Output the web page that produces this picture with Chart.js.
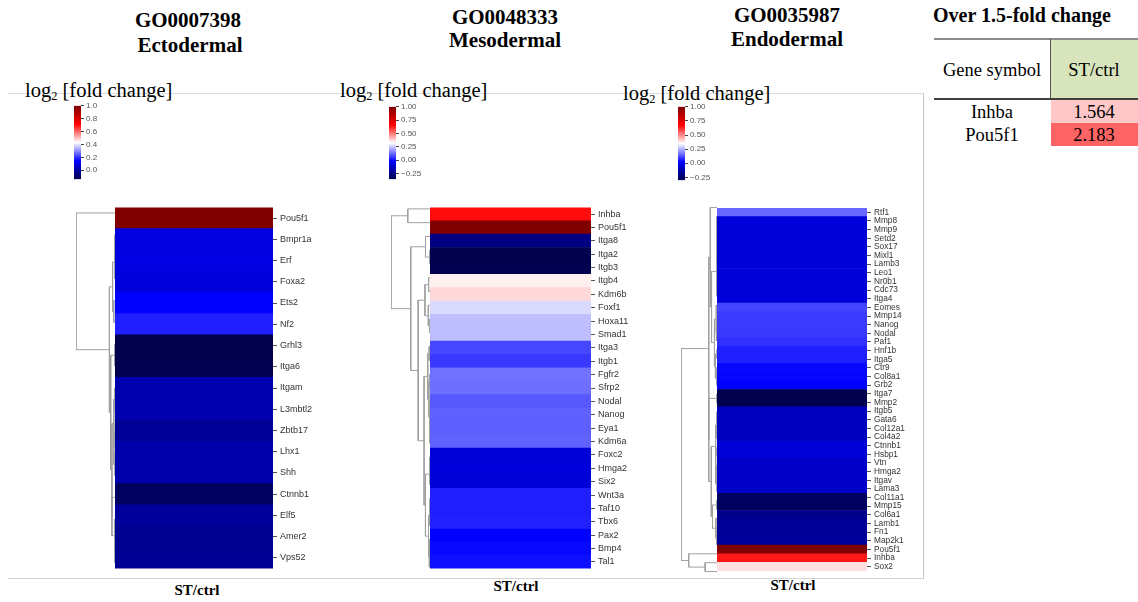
<!DOCTYPE html>
<html>
<head>
<meta charset="utf-8">
<script src="https://cdn.jsdelivr.net/npm/chart.js@4.4.0/dist/chart.umd.min.js"></script>
<style>
  body { margin: 0; width: 1138px; height: 602px; background: #fff; position: relative; overflow: hidden; }
  .abs { position: absolute; }
  .serif { font-family: "Liberation Serif", "Times New Roman", serif; color: #000; white-space: nowrap; }
  .c { transform: translate(-50%, -50%); }
  .title { font-weight: bold; font-size: 21px; line-height: 24px; }
  .lbl { font-size: 20.5px; line-height: 22px; }
  .lbl sub { font-size: 0.6em; vertical-align: -0.25em; line-height: 0; }
  .st { font-weight: bold; font-size: 15px; line-height: 18px; }
  .cell { font-size: 18.5px; line-height: 22px; }
  canvas { position: absolute; }
</style>
</head>
<body>

<!-- frame round the three heatmaps -->
<div class="abs" style="left:8px; top:93px; width:915px; height:484px; border-top:1px solid #dcdcdc; border-right:1px solid #c4c4c4; border-bottom:1px solid #d4d4d4;"></div>

<!-- titles -->
<div class="abs serif title c" style="left:188px; top:20px;">GO0007398</div>
<div class="abs serif title c" style="left:190px; top:45px;">Ectodermal</div>
<div class="abs serif title c" style="left:505px; top:17px;">GO0048333</div>
<div class="abs serif title c" style="left:505px; top:40px;">Mesodermal</div>
<div class="abs serif title c" style="left:787px; top:15px;">GO0035987</div>
<div class="abs serif title c" style="left:787px; top:39px;">Endodermal</div>

<div class="abs serif lbl" style="left:25px; top:79px;">log<sub>2</sub> [fold change]</div>
<div class="abs serif lbl" style="left:340px; top:79px;">log<sub>2</sub> [fold change]</div>
<div class="abs serif lbl" style="left:623px; top:82px;">log<sub>2</sub> [fold change]</div>

<div class="abs serif st c" style="left:197px; top:590px;">ST/ctrl</div>
<div class="abs serif st c" style="left:516px; top:586px;">ST/ctrl</div>
<div class="abs serif st c" style="left:793px; top:585px;">ST/ctrl</div>

<!-- fold change table -->
<div class="abs serif title c" style="left:1022px; top:15px; font-size:20px;">Over 1.5-fold change</div>
<div class="abs" style="left:1050px; top:40px; width:88px; height:58px; background:#d8e4bc;"></div>
<div class="abs" style="left:934px; top:38px; width:204px; height:2px; background:#8c8c8c;"></div>
<div class="abs" style="left:1050px; top:39px; width:1px; height:60px; background:#555;"></div>
<div class="abs" style="left:934px; top:98px; width:204px; height:2px; background:#404040;"></div>
<div class="abs" style="left:1051px; top:100px; width:87px; height:23px; background:#ffc7c7;"></div>
<div class="abs" style="left:1051px; top:123px; width:87px; height:23px; background:#ff6464;"></div>
<div id="table"></div>

<div id="charts"></div>

<script>
// ---- data ----
const ectoGenes = ['Pou5f1', 'Bmpr1a', 'Erf', 'Foxa2', 'Ets2', 'Nf2', 'Grhl3', 'Itga6', 'Itgam', 'L3mbtl2',
  'Zbtb17', 'Lhx1', 'Shh', 'Ctnnb1', 'Elf5', 'Amer2', 'Vps52'];
const ectoValues = [1.126, 0.095, 0.098, 0.090, 0.145, 0.180, -0.140, -0.136, 0.015, 0.020,
  -0.022, 0.012, 0.010, -0.110, -0.012, -0.030, -0.028];

const mesoGenes = ['Inhba', 'Pou5f1', 'Itga8', 'Itga2', 'Itgb3', 'Itgb4', 'Kdm6b', 'Foxf1', 'Hoxa11', 'Smad1',
  'Itga3', 'Itgb1', 'Fgfr2', 'Sfrp2', 'Nodal', 'Nanog', 'Eya1', 'Kdm6a', 'Foxc2', 'Hmga2',
  'Six2', 'Wnt3a', 'Taf10', 'Tbx6', 'Pax2', 'Bmp4', 'Tal1'];
const mesoValues = [0.645, 1.126, -0.260, -0.360, -0.355, 0.340, 0.370, 0.270, 0.235, 0.232,
  0.075, 0.055, 0.130, 0.128, 0.097, 0.108, 0.106, 0.110, -0.093, -0.090,
  -0.095, 0.022, 0.020, 0.024, -0.020, -0.010, 0.000];

const endoGenes = ['Rtf1', 'Mmp8', 'Mmp9', 'Setd2', 'Sox17', 'Mixl1', 'Lamb3', 'Leo1', 'Nr0b1', 'Cdc73',
  'Itga4', 'Eomes', 'Mmp14', 'Nanog', 'Nodal', 'Paf1', 'Hnf1b', 'Itga5', 'Ctr9', 'Col8a1',
  'Grb2', 'Itga7', 'Mmp2', 'Itgb5', 'Gata6', 'Col12a1', 'Col4a2', 'Ctnnb1', 'Hsbp1', 'Vtn',
  'Hmga2', 'Itgav', 'Lama3', 'Col11a1', 'Mmp15', 'Col6a1', 'Lamb1', 'Fn1', 'Map2k1', 'Pou5f1',
  'Inhba', 'Sox2'];
const endoValues = [0.158, -0.045, -0.043, -0.047, -0.044, -0.046, -0.042, -0.045, -0.048, -0.044,
  -0.046, 0.113, 0.100, 0.100, 0.098, 0.086, 0.066, 0.064, 0.035, 0.033,
  0.025, -0.300, -0.298, -0.090, -0.088, -0.092, -0.090, -0.045, -0.047, -0.076,
  -0.074, -0.078, -0.075, -0.264, -0.262, -0.184, -0.160, -0.162, -0.158, 1.126,
  0.645, 0.390];

// colour bar ranges and ticks
const ectoRange = [-0.14, 1.0];
const mesoRange = [-0.36, 1.0];
const endoRange = [-0.30, 1.0];
const ectoTicks = [0.0, 0.2, 0.4, 0.6, 0.8, 1.0];
const ectoTickLabels = ['0.0', '0.2', '0.4', '0.6', '0.8', '1.0'];
const quarterTicks = [-0.25, 0.0, 0.25, 0.5, 0.75, 1.0];
const quarterTickLabels = ['\u22120.25', '0.00', '0.25', '0.50', '0.75', '1.00'];

// table
const tableGenes = ['Inhba', 'Pou5f1'];
const tableFold = ['1.564', '2.183'];

// ---- layout of each panel (pixels) ----
const panels = [
  { genes: ectoGenes, values: ectoValues, range: ectoRange, ticks: ectoTicks, tickLabels: ectoTickLabels,
    heat: { x: 115, y: 202, w: 158, h: 372 }, rootX: 76, bar: { x: 74, y: 105, h: 75 }, font: 9, axisW: 60 },
  { genes: mesoGenes, values: mesoValues, range: mesoRange, ticks: quarterTicks, tickLabels: quarterTickLabels,
    heat: { x: 430, y: 202, w: 161, h: 372 }, rootX: 391, bar: { x: 389, y: 106, h: 74 }, font: 9, axisW: 60 },
  { genes: endoGenes, values: endoValues, range: endoRange, ticks: quarterTicks, tickLabels: quarterTickLabels,
    heat: { x: 717, y: 203, w: 150, h: 373 }, rootX: 681, bar: { x: 678, y: 106, h: 75 }, font: 8.3, axisW: 55 }
];

// matplotlib "seismic"
function seismic(t) {
  t = Math.max(0, Math.min(1, t));
  let r, g, b;
  if (t < 0.25) { r = 0; g = 0; b = 0.3 + 0.7 * t / 0.25; }
  else if (t < 0.5) { const s = (t - 0.25) / 0.25; r = s; g = s; b = 1; }
  else if (t < 0.75) { const s = (t - 0.5) / 0.25; r = 1; g = 1 - s; b = 1 - s; }
  else { const s = (t - 0.75) / 0.25; r = 1 - 0.5 * s; g = 0; b = 0; }
  return `rgb(${Math.round(r * 255)},${Math.round(g * 255)},${Math.round(b * 255)})`;
}

// average-linkage clustering that keeps the row order shown
function clusterRows(values) {
  let nodes = values.map((v, i) => ({ members: [i], y: i, h: 0 }));
  const links = [];
  const dist = (a, b) => {
    let s = 0;
    a.members.forEach(i => b.members.forEach(j => { s += Math.abs(values[i] - values[j]); }));
    return s / (a.members.length * b.members.length);
  };
  while (nodes.length > 1) {
    let best = 0, bestD = Infinity;
    for (let k = 0; k < nodes.length - 1; k++) {
      const d = dist(nodes[k], nodes[k + 1]);
      if (d < bestD) { bestD = d; best = k; }
    }
    const a = nodes[best], b = nodes[best + 1];
    const h = Math.max(bestD, a.h, b.h);
    links.push([[a.h, a.y], [h, a.y], [h, b.y], [b.h, b.y]]);
    nodes.splice(best, 2, { members: a.members.concat(b.members), y: (a.y + b.y) / 2, h: h });
  }
  return { links: links, top: nodes[0].h };
}

function addCanvas(x, y, w, h) {
  const c = document.createElement('canvas');
  c.width = w; c.height = h;
  c.style.left = x + 'px'; c.style.top = y + 'px';
  document.getElementById('charts').appendChild(c);
  return c;
}

const common = {
  responsive: false,
  animation: false,
  events: [],
  plugins: { legend: { display: false }, tooltip: { enabled: false } }
};

panels.forEach(p => {
  const [lo, hi] = p.range;
  const n = p.genes.length;

  // heatmap column
  new Chart(addCanvas(p.heat.x, p.heat.y - 3, p.heat.w + p.axisW, p.heat.h + 6), {
    type: 'bar',
    data: {
      labels: p.genes,
      datasets: [{
        data: p.values.map(() => 1),
        backgroundColor: p.values.map(v => seismic((v - lo) / (hi - lo))),
        barPercentage: 1,
        categoryPercentage: 1,
        borderWidth: 0
      }]
    },
    options: {
      ...common,
      indexAxis: 'y',
      layout: { padding: { top: 3, bottom: 3, left: 0, right: 0 } },
      scales: {
        x: { display: false, min: 0, max: 1 },
        y: {
          position: 'right',
          grid: { display: true, drawOnChartArea: false, drawTicks: true, tickLength: 4, color: '#555', offset: false },
          border: { display: false },
          ticks: { color: '#333', autoSkip: false, padding: 3, font: { family: 'Liberation Sans', size: p.font } },
          afterFit: s => { s.width = p.axisW; }
        }
      }
    }
  });

  // dendrogram
  const tree = clusterRows(p.values);
  const dw = p.heat.x - p.rootX + 2;
  new Chart(addCanvas(p.rootX - 2, p.heat.y, dw, p.heat.h), {
    type: 'scatter',
    data: {
      datasets: tree.links.map(l => ({
        data: l.map(pt => ({ x: pt[0], y: pt[1] })),
        showLine: true,
        borderColor: '#a0a0a0',
        borderWidth: 1,
        pointRadius: 0,
        tension: 0
      }))
    },
    options: {
      ...common,
      layout: { padding: { left: 2, right: 0, top: 0, bottom: 0 } },
      scales: {
        x: { type: 'linear', reverse: true, min: 0, max: tree.top, display: false },
        y: { type: 'linear', reverse: true, min: -0.5, max: n - 0.5, display: false }
      }
    }
  });

  // colour bar
  new Chart(addCanvas(p.bar.x, p.bar.y - 6, 7 + 34, p.bar.h + 12), {
    type: 'bar',
    data: {
      labels: [''],
      datasets: [{
        data: [[lo, hi]],
        backgroundColor: ctx => {
          const chart = ctx.chart;
          if (!chart.chartArea) return '#fff';
          const y = chart.scales.y;
          const g = chart.ctx.createLinearGradient(0, y.getPixelForValue(lo), 0, y.getPixelForValue(hi));
          for (let i = 0; i <= 40; i++) g.addColorStop(i / 40, seismic(i / 40));
          return g;
        },
        barPercentage: 1,
        categoryPercentage: 1,
        borderWidth: 0,
        borderSkipped: false
      }]
    },
    options: {
      ...common,
      layout: { padding: { top: 6, bottom: 6, left: 0, right: 0 } },
      scales: {
        x: { display: false },
        y: {
          position: 'right',
          min: lo,
          max: hi,
          afterBuildTicks: s => { s.ticks = p.ticks.map(v => ({ value: v })); },
          grid: { drawOnChartArea: false, tickLength: 3, color: '#444' },
          border: { display: false },
          ticks: {
            color: '#555',
            padding: 2,
            font: { family: 'Liberation Sans', size: 8 },
            callback: (v, i) => p.tickLabels[i]
          },
          afterFit: s => { s.width = 34; }
        }
      }
    }
  });
});

// table text
const table = document.getElementById('table');
function addCell(x, y, text) {
  const d = document.createElement('div');
  d.className = 'abs serif cell c';
  d.style.left = x + 'px'; d.style.top = y + 'px';
  d.textContent = text;
  table.appendChild(d);
}
addCell(992, 70, 'Gene symbol');
addCell(1094, 70, 'ST/ctrl');
tableGenes.forEach((g, i) => {
  addCell(992, 112 + i * 23, g);
  addCell(1094, 112 + i * 23, tableFold[i]);
});
</script>
</body>
</html>
